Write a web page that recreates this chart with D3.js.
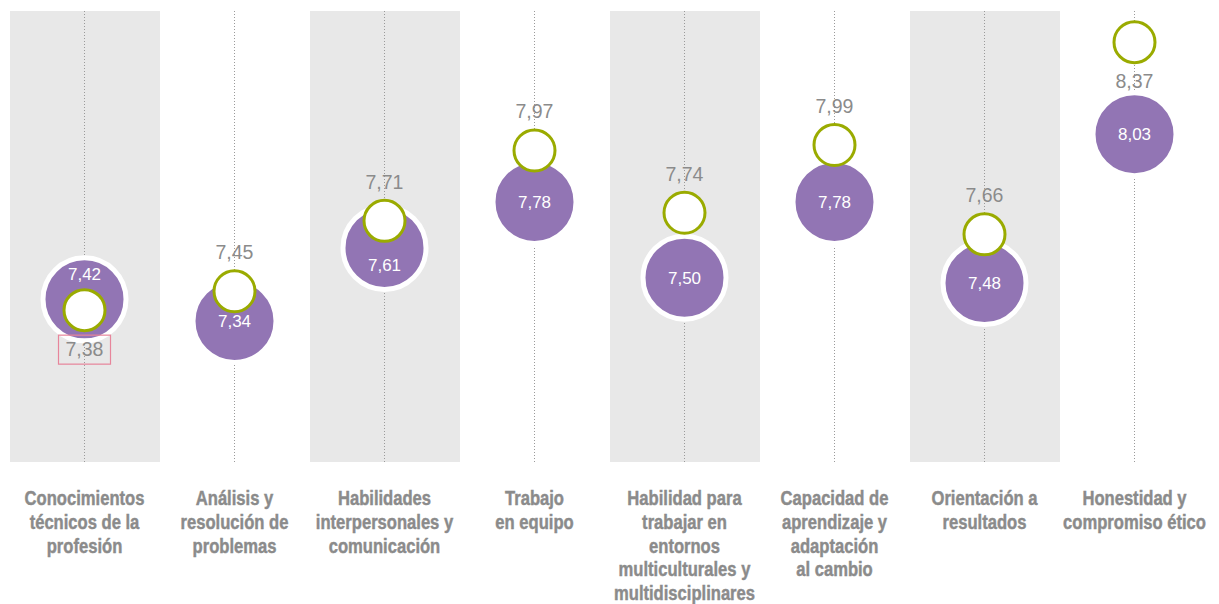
<!DOCTYPE html>
<html>
<head>
<meta charset="utf-8">
<script src="https://cdn.jsdelivr.net/npm/d3@7"></script>
<style>
  html, body { margin: 0; padding: 0; background: #ffffff; }
  svg { display: block; }
</style>
</head>
<body>
<svg id="chart" width="1219" height="604"></svg>
<script>
// Competencias: valoración (círculo morado) frente a importancia (círculo verde)
const categories = [
  ["Conocimientos", "técnicos de la", "profesión"],
  ["Análisis y", "resolución de", "problemas"],
  ["Habilidades", "interpersonales y", "comunicación"],
  ["Trabajo", "en equipo"],
  ["Habilidad para", "trabajar en", "entornos", "multiculturales y", "multidisciplinares"],
  ["Capacidad de", "aprendizaje y", "adaptación", "al cambio"],
  ["Orientación a", "resultados"],
  ["Honestidad y", "compromiso ético"]
];
const purpleValues = [7.42, 7.34, 7.61, 7.78, 7.50, 7.78, 7.48, 8.03];
const greenValues  = [7.38, 7.45, 7.71, 7.97, 7.74, 7.99, 7.66, 8.37];

const bandTop = 11, bandBottom = 462;
const svg = d3.select("#chart");

const x = d3.scaleBand()
  .domain(d3.range(categories.length))
  .range([10, 10 + 150 * categories.length])
  .paddingInner(0).paddingOuter(0);

const y = d3.scaleLinear().domain([7.0, 8.5]).range([413, 7]);

const fmt = v => d3.format(".2f")(v).replace(".", ",");
const cx = i => x(i) + x.bandwidth() / 2 - 0.5;

const PURPLE = "#9275b4";
const GREEN = "#9aab00";
const GREY_TEXT = "#8b8b8b";
const R_PURPLE = 39, R_GREEN = 22;

// alternating grey column bands
svg.append("g").selectAll("rect")
  .data(d3.range(categories.length).filter(i => i % 2 === 0))
  .join("rect")
  .attr("x", i => x(i))
  .attr("y", bandTop)
  .attr("width", x.bandwidth())
  .attr("height", bandBottom - bandTop)
  .attr("fill", "#e8e8e8");

// dotted centre lines
svg.append("g").selectAll("line")
  .data(d3.range(categories.length))
  .join("line")
  .attr("x1", cx).attr("x2", cx)
  .attr("y1", bandTop).attr("y2", bandBottom)
  .attr("stroke", "#9a9a9a")
  .attr("stroke-width", 1)
  .attr("stroke-dasharray", "1,2");

// purple circles with white halo
svg.append("g").selectAll("circle")
  .data(purpleValues)
  .join("circle")
  .attr("cx", (d, i) => cx(i))
  .attr("cy", d => y(d))
  .attr("r", R_PURPLE + 2.5)
  .attr("fill", PURPLE)
  .attr("stroke", "#ffffff")
  .attr("stroke-width", 5);

// green outlined circles
svg.append("g").selectAll("circle")
  .data(greenValues)
  .join("circle")
  .attr("cx", (d, i) => cx(i))
  .attr("cy", d => y(d))
  .attr("r", R_GREEN - 1.5)
  .attr("fill", "#ffffff")
  .attr("stroke", GREEN)
  .attr("stroke-width", 3);

// purple value labels; when the green circle covers the centre,
// the label moves into the free part of the purple circle
const purpleLabelY = (d, i) => {
  const gy = y(greenValues[i]), py = y(d);
  if (Math.abs(gy - py) < 29) {
    if (gy > py) return ((py - R_PURPLE) + (gy - R_GREEN)) / 2 + 6;
    return ((gy + R_GREEN) + (py + R_PURPLE)) / 2 + 6;
  }
  return py + 6;
};
svg.append("g").selectAll("text")
  .data(purpleValues)
  .join("text")
  .attr("x", (d, i) => cx(i))
  .attr("y", purpleLabelY)
  .attr("text-anchor", "middle")
  .attr("font-family", "'Liberation Sans', Arial, sans-serif")
  .attr("font-size", 17)
  .attr("fill", "#ffffff")
  .text(d => fmt(d));

// green value labels: above the circle, or below when it sits under the purple
// circle or too close to the top edge
const below = (d, i) => d < purpleValues[i] || y(d) - 50 < 0;
const labelY = (d, i) => below(d, i) ? y(d) + 46 : y(d) - 32;
const minIdx = greenValues.indexOf(d3.min(greenValues));

const gl = svg.append("g");
gl.selectAll("rect")
  .data([minIdx])
  .join("rect")
  .attr("x", i => cx(i) - 26)
  .attr("y", i => labelY(greenValues[i], i) - 21)
  .attr("width", 52)
  .attr("height", 29)
  .attr("fill", "none")
  .attr("stroke", "#e7859b")
  .attr("stroke-width", 1.2);

gl.selectAll("text")
  .data(greenValues)
  .join("text")
  .attr("x", (d, i) => cx(i))
  .attr("y", labelY)
  .attr("text-anchor", "middle")
  .attr("font-family", "'Liberation Sans', Arial, sans-serif")
  .attr("font-size", 19.5)
  .attr("fill", GREY_TEXT)
  .text(d => fmt(d));

// category labels, bold and horizontally condensed
const cat = svg.append("g").selectAll("text")
  .data(categories)
  .join("text")
  .attr("transform", (d, i) => `translate(${cx(i)},505) scale(0.83,1)`)
  .attr("text-anchor", "middle")
  .attr("font-family", "'Liberation Sans', Arial, sans-serif")
  .attr("font-weight", "bold")
  .attr("font-size", 20)
  .attr("fill", GREY_TEXT)
  .attr("stroke", GREY_TEXT)
  .attr("stroke-width", 0.45);
cat.selectAll("tspan")
  .data(d => d)
  .join("tspan")
  .attr("x", 0)
  .attr("dy", (d, j) => j === 0 ? 0 : 23.8)
  .text(d => d);
</script>
</body>
</html>
